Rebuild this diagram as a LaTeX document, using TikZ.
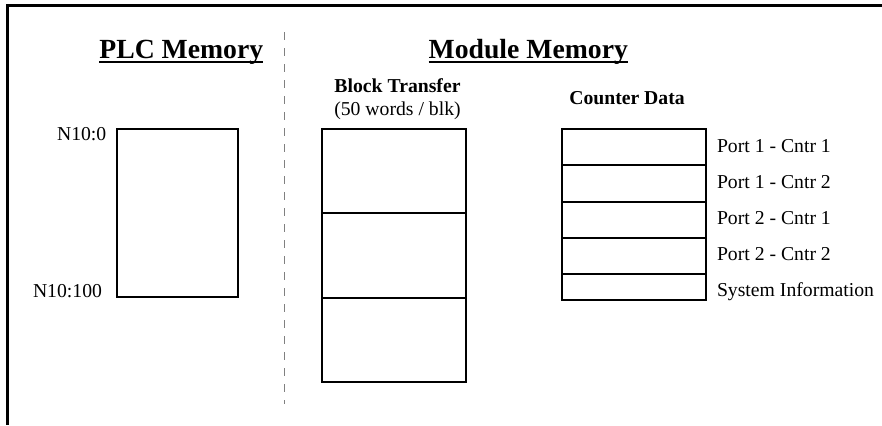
\documentclass[tikz,border=0pt]{standalone}
\usepackage{fontspec}
\setmainfont{Liberation Serif}
\begin{document}
\begin{tikzpicture}[x=1pt,y=-1pt,
  lbl/.style={inner sep=0pt,outer sep=0pt,font=\fontsize{19.7}{22}\selectfont},
  blbl/.style={lbl,font=\fontsize{19.7}{22}\selectfont\bfseries},
  hdr/.style={inner sep=0pt,outer sep=0pt,font=\fontsize{27.7}{30}\selectfont\bfseries},
  memrect/.style={draw,line width=1.8pt,inner sep=0pt,outer sep=0pt,rectangle},
  frameline/.style={line width=3pt},
  divider/.style={draw=gray,line width=1.3pt,dash pattern=on 7.7pt off 8.3pt}
]
\useasboundingbox (0,0) rectangle (882,425);
% frame
\coordinate (ftr) at (882,5.5);
\coordinate (ftl) at (7.5,5.5);
\coordinate (fbl) at (7.5,425);
\draw[frameline] (ftr) -- (ftl) -- (fbl);
% divider
\coordinate (dtop) at (284.7,32.3);
\coordinate (dbot) at (284.7,404);
\draw[divider] (dtop) -- (dbot);
% headers
\node[hdr,anchor=base] (hplc) at (181.3,59) {PLC Memory};
\draw[line width=1.7pt] ([yshift=-3.3pt]hplc.base west) -- ([yshift=-3.3pt]hplc.base east);
\node[hdr,anchor=base] (hmod) at (528.3,59) {Module Memory};
\draw[line width=1.7pt] ([yshift=-3.3pt]hmod.base west) -- ([yshift=-3.3pt]hmod.base east);
% PLC memory box
\node[memrect,minimum width=121pt,minimum height=168pt] (plc) at (177.8,213.3) {};
\node[lbl,anchor=base] (n0) at (81.7,140) {N10:0};
\node[lbl,anchor=base] (n100) at (67.5,297) {N10:100};
% Block transfer
\node[blbl,anchor=base] (bt) at (397.5,93) {Block Transfer};
\node[lbl,anchor=base] (btw) at (397.5,115) {(50 words / blk)};
\node[memrect,minimum width=144pt,minimum height=84pt] (b1) at (394,171.3) {};
\node[memrect,minimum width=144pt,minimum height=84.4pt] (b2) at (394,255.5) {};
\node[memrect,minimum width=144pt,minimum height=84pt] (b3) at (394,339.7) {};
% Counter data
\node[blbl,anchor=base] (cd) at (627,104) {Counter Data};
\node[memrect,minimum width=143.7pt,minimum height=36pt] (c1) at (634.2,147.3) {};
\node[memrect,minimum width=143.7pt,minimum height=36.4pt] (c2) at (634.2,183.5) {};
\node[memrect,minimum width=143.7pt,minimum height=36pt] (c3) at (634.2,219.7) {};
\node[memrect,minimum width=143.7pt,minimum height=36.3pt] (c4) at (634.2,255.85) {};
\node[memrect,minimum width=143.7pt,minimum height=26pt] (c5) at (634.2,287) {};
\node[lbl,anchor=base west] (l1) at (717,152.7) {Port 1 - Cntr 1};
\node[lbl,anchor=base west] (l2) at (717,188.5) {Port 1 - Cntr 2};
\node[lbl,anchor=base west] (l3) at (717,224.3) {Port 2 - Cntr 1};
\node[lbl,anchor=base west] (l4) at (717,260.3) {Port 2 - Cntr 2};
\node[lbl,anchor=base west] (l5) at (717,296.3) {System Information};
\end{tikzpicture}
\end{document}
